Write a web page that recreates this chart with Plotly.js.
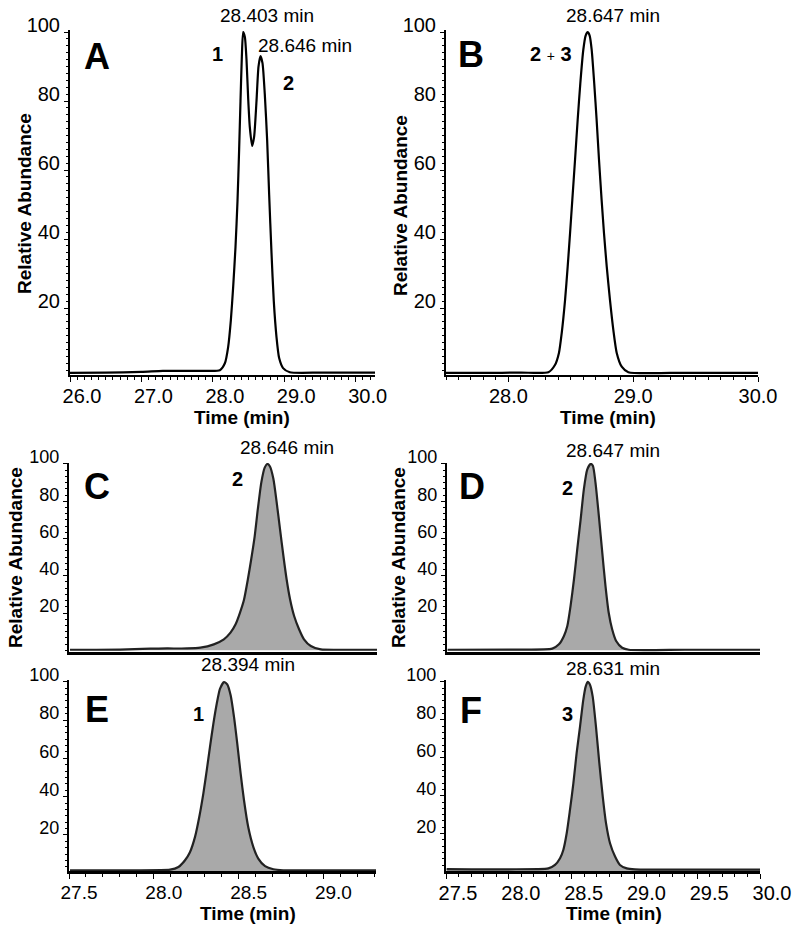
<!DOCTYPE html>
<html>
<head>
<meta charset="utf-8">
<script src="https://cdn.plot.ly/plotly-3.0.1.min.js"></script>
<style>
  html, body { margin: 0; padding: 0; background: #fff; }
  #chart { width: 795px; height: 926px; }
</style>
</head>
<body>
<div id="chart"></div>
<script>
const aTime = [26.00, 26.50, 27.00, 27.30, 27.60, 27.95, 28.098, 28.168, 28.214, 28.252, 28.284, 28.317, 28.345, 28.368, 28.387, 28.406, 28.424, 28.448, 28.471, 28.494, 28.517, 28.550, 28.578, 28.611, 28.639, 28.667, 28.695, 28.727, 28.760, 28.788, 28.821, 28.853, 28.891, 28.928, 28.983, 29.077, 29.50, 30.00, 30.27];
const aAbund = [1.2, 1.3, 1.5, 1.8, 1.8, 1.8, 2.0, 4.0, 8.7, 16.5, 26, 37.7, 51, 66, 80, 93, 100, 98.6, 92, 81, 72.5, 67, 69.7, 80, 90, 93, 91, 82, 68.7, 53, 36, 22, 11.6, 5.5, 2.6, 1.4, 1.3, 1.3, 1.3];

const bTime = [27.50, 27.80, 28.10, 28.320, 28.373, 28.405, 28.427, 28.454, 28.475, 28.494, 28.512, 28.534, 28.555, 28.576, 28.600, 28.619, 28.635, 28.651, 28.667, 28.688, 28.707, 28.726, 28.747, 28.766, 28.788, 28.814, 28.841, 28.868, 28.908, 28.961, 29.30, 29.70, 30.00];
const bAbund = [1.2, 1.2, 1.3, 1.4, 3.5, 7, 12.7, 22.3, 32, 41.7, 51.3, 63, 74.5, 85, 94.8, 99, 100, 99, 95, 85, 74.5, 63, 51.3, 41.7, 32, 22.3, 13.6, 7, 3, 1.4, 1.2, 1.2, 1.2];

const cTime = [27.506, 27.80, 27.978, 28.076, 28.194, 28.272, 28.351, 28.410, 28.449, 28.479, 28.504, 28.528, 28.551, 28.571, 28.591, 28.610, 28.630, 28.650, 28.666, 28.681, 28.701, 28.721, 28.740, 28.760, 28.779, 28.799, 28.823, 28.852, 28.881, 28.921, 28.980, 29.10, 29.31];
const cAbund = [0.3, 0.4, 0.9, 1.0, 1.0, 1.4, 3.2, 5.9, 9.5, 14, 20, 27, 38, 49, 61, 76, 90, 98, 100, 98.6, 92, 79, 65, 50.6, 38, 27.4, 18.4, 11.3, 5.9, 2.3, 0.5, 0.3, 0.3];

const dTime = [27.505, 28.00, 28.341, 28.394, 28.434, 28.461, 28.487, 28.514, 28.540, 28.567, 28.593, 28.620, 28.647, 28.665, 28.686, 28.713, 28.740, 28.766, 28.792, 28.819, 28.851, 28.899, 28.952, 29.40, 30.00];
const dAbund = [0.3, 0.4, 0.9, 3.2, 7.7, 13, 23.8, 38, 54, 70, 86.4, 97, 100, 99, 90, 72, 52.5, 34.5, 20, 11.3, 5, 1.4, 0.3, 0.3, 0.3];

const eTime = [27.506, 27.80, 28.096, 28.145, 28.184, 28.213, 28.243, 28.268, 28.292, 28.312, 28.331, 28.351, 28.371, 28.390, 28.414, 28.433, 28.453, 28.473, 28.492, 28.512, 28.532, 28.557, 28.587, 28.616, 28.656, 28.705, 28.764, 29.00, 29.31];
const eAbund = [1.6, 1.6, 1.9, 3.3, 6.8, 11, 19, 29.4, 41.6, 53.7, 65.9, 78, 88.5, 96.3, 99.8, 98.6, 92.9, 81.5, 67.7, 52, 38, 24, 13.7, 7.7, 3.7, 2.1, 1.6, 1.5, 1.5];

const fTime = [27.505, 27.996, 28.315, 28.368, 28.408, 28.434, 28.461, 28.487, 28.514, 28.540, 28.567, 28.593, 28.612, 28.628, 28.647, 28.668, 28.694, 28.721, 28.748, 28.774, 28.806, 28.846, 28.885, 28.939, 29.005, 29.50, 30.00];
const fAbund = [1.3, 1.2, 1.7, 3.5, 7, 11.4, 20.2, 32.5, 46.5, 62.4, 76.4, 90.5, 97.5, 100, 98.4, 92.2, 76.4, 57, 39.5, 25.5, 14.9, 7.9, 3.5, 1.7, 1.2, 1.0, 1.0];

// etiquetas de ejes y textos
const panelLetters = ['A', 'B', 'C', 'D', 'E', 'F'];
const peakTimeLabels = ['28.403 min', '28.646 min', '28.647 min', '28.646 min', '28.647 min', '28.394 min', '28.631 min'];
const yTickVals = [20, 40, 60, 80, 100];
const xTicksA = [26, 27, 28, 29, 30];
const xTicksB = [28, 29, 30];
const xTicksE = [27.5, 28, 28.5, 29];
const xTicksF = [27.5, 28, 28.5, 29, 29.5, 30];

const W = 795, H = 926;
const FONT = 'Liberation Sans, Arial, Helvetica, sans-serif';
const px = x => x / W;
const py = y => 1 - y / H;

// cajas de cada panel en pixeles
const boxes = [
  { x0: 70, x1: 375, y0: 30, y1: 375 },
  { x0: 446, x1: 758, y0: 30, y1: 375 },
  { x0: 69, x1: 377, y0: 463, y1: 652 },
  { x0: 447, x1: 760, y0: 463, y1: 652 },
  { x0: 69, x1: 376, y0: 680, y1: 871 },
  { x0: 446, x1: 760, y0: 680, y1: 871 }
];
const xRanges = [[26.0, 30.27], [27.5, 30.0], [27.5, 29.31], [27.5, 30.0], [27.5, 29.31], [27.5, 30.0]];
const yRanges = [[0.6, 100.6], [0.6, 100.6], [-0.9, 100.5], [-0.9, 100.5], [1.2, 100.9], [0.3, 101]];
const xTicks = [xTicksA, xTicksB, null, null, xTicksE, xTicksF];
const xShift = [12, 0, 0, 0, 10, 12];
const xFont = [20, 20, 19, 19, 19, 20];
const yFont = [20, 20, 18, 18, 18, 18];
const yMinor = [2, 2, 20 / 6, 20 / 6, 20 / 6, 20 / 6];

const series = [[aTime, aAbund], [bTime, bAbund], [cTime, cAbund], [dTime, dAbund], [eTime, eAbund], [fTime, fAbund]];

const traces = series.map((s, i) => {
  const filled = i >= 2;
  return {
    x: s[0],
    y: s[1],
    xaxis: i === 0 ? 'x' : 'x' + (i + 1),
    yaxis: i === 0 ? 'y' : 'y' + (i + 1),
    mode: 'lines',
    line: { color: filled ? '#222222' : '#000000', width: 2.2, shape: 'spline', smoothing: 0.6 },
    fill: filled ? 'tozeroy' : 'none',
    fillcolor: '#a9a9a9',
    hoverinfo: 'skip',
    showlegend: false
  };
});

const layout = {
  width: W,
  height: H,
  margin: { l: 0, r: 0, t: 0, b: 0 },
  paper_bgcolor: '#ffffff',
  plot_bgcolor: 'rgba(0,0,0,0)',
  font: { family: FONT, color: '#000000' },
  showlegend: false,
  annotations: []
};

boxes.forEach((b, i) => {
  const sfx = i === 0 ? '' : String(i + 1);
  const hasX = xTicks[i] !== null;
  layout['xaxis' + sfx] = {
    domain: [px(b.x0), px(b.x1)],
    range: xRanges[i],
    anchor: 'y' + sfx,
    showgrid: false,
    zeroline: false,
    showline: true,
    linecolor: '#000000',
    linewidth: i >= 2 ? 3 : 2,
    ticks: hasX ? 'outside' : '',
    ticklen: 5,
    tickwidth: 1,
    tickcolor: '#000000',
    tickmode: hasX ? 'array' : 'auto',
    tickvals: hasX ? xTicks[i] : undefined,
    ticktext: hasX ? xTicks[i].map(v => v.toFixed(1)) : undefined,
    showticklabels: hasX,
    ticklabelshift: xShift[i],
    ticklabelstandoff: -3,
    tickfont: { size: xFont[i], family: FONT, color: '#000000' },
    minor: hasX ? { dtick: 0.1, ticks: 'outside', ticklen: 3, tickcolor: '#000000', tickwidth: 1 } : undefined,
    fixedrange: true
  };
  layout['yaxis' + sfx] = {
    domain: [py(b.y1), py(b.y0)],
    range: yRanges[i],
    anchor: 'x' + sfx,
    showgrid: false,
    zeroline: false,
    showline: true,
    linecolor: '#000000',
    linewidth: 2,
    ticks: 'outside',
    ticklen: 4,
    tickwidth: 1,
    tickcolor: '#000000',
    tickmode: 'array',
    tickvals: yTickVals,
    ticklabelshift: -7,
    tickfont: { size: yFont[i], family: FONT, color: '#000000' },
    minor: { dtick: yMinor[i], tick0: 0, ticks: 'outside', ticklen: 2, tickcolor: '#000000', tickwidth: 1 },
    fixedrange: true
  };
});

function note(text, x, y, size, extra) {
  layout.annotations.push(Object.assign({
    text: text,
    x: px(x), y: py(y), xref: 'paper', yref: 'paper',
    xanchor: 'center', yanchor: 'middle',
    showarrow: false,
    font: { family: FONT, size: size, color: '#000000' }
  }, extra || {}));
}

// letras de panel
const letterPos = [[97, 57], [471, 54], [97, 486], [472, 486], [97, 709], [471, 710]];
panelLetters.forEach((l, i) => note('<b>' + l + '</b>', letterPos[i][0], letterPos[i][1], 36));

// numeros de pico
note('<b>1</b>', 217, 54, 20);
note('<b>2</b>', 288, 83, 20);
note('<b>2</b> <span style="font-size:14px">+</span> <b>3</b>', 551, 54, 20);
note('<b>2</b>', 237, 479, 20);
note('<b>2</b>', 567, 488, 20);
note('<b>1</b>', 198, 714, 20);
note('<b>3</b>', 567, 714, 20);

// tiempos de retencion
const rtPos = [[267, 16], [305, 46], [613, 15], [287, 448], [613, 450], [248, 664], [613, 668]];
peakTimeLabels.forEach((t, i) => note(t, rtPos[i][0], rtPos[i][1], 19));

// titulos de ejes
const yTitlePos = [[25, 204], [401, 206], [15, 558], [398, 558]];
yTitlePos.forEach(p => note('<b>Relative Abundance</b>', p[0], p[1], 19, { textangle: -90 }));
const xTitlePos = [[242, 417], [608, 417], [248, 913], [614, 913]];
xTitlePos.forEach(p => note('<b>Time (min)</b>', p[0], p[1], 19));

Plotly.newPlot('chart', traces, layout, { displayModeBar: false, staticPlot: true });
</script>
</body>
</html>
